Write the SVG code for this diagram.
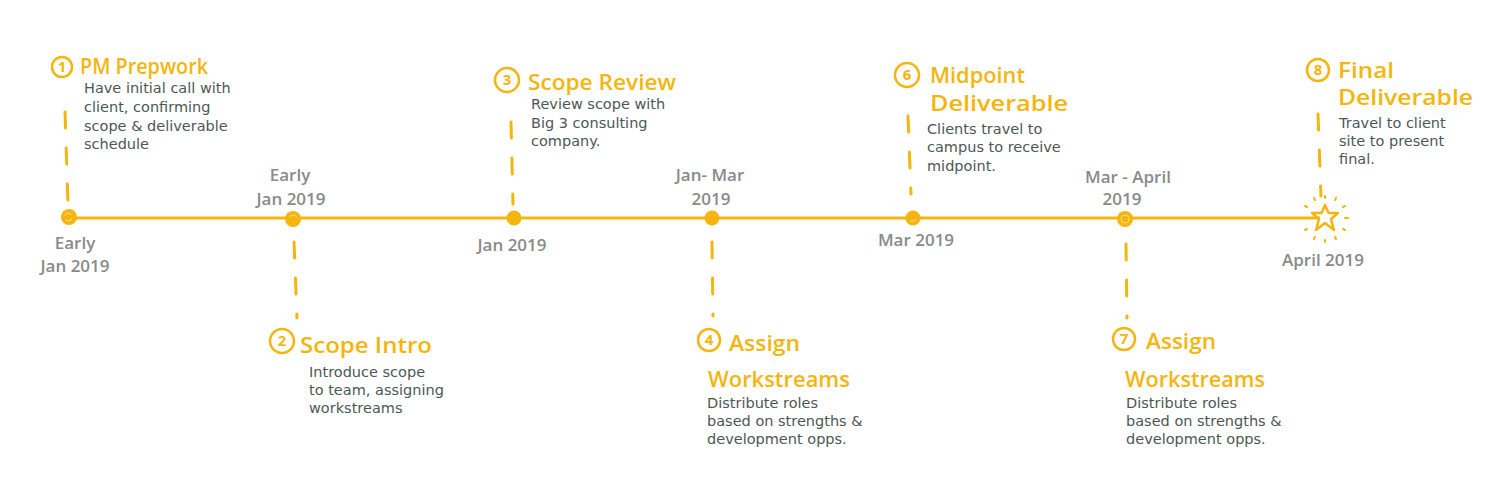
<svg xmlns="http://www.w3.org/2000/svg" width="1510" height="503" viewBox="0 0 1510 503">
<style>
.title{font-family:"Open Sans","Liberation Sans",sans-serif;font-size:22px;font-weight:600;fill:#F6B50E;}
.num{font-family:"Open Sans","Liberation Sans",sans-serif;font-size:15px;font-weight:bold;fill:#F6B50E;text-anchor:middle;}
.ring{fill:none;stroke:#F6B50E;stroke-width:2.5;}
.body{font-family:"DejaVu Sans","Liberation Sans",sans-serif;font-size:14.5px;fill:#4d5757;}
.date{font-family:"Open Sans","Liberation Sans",sans-serif;font-size:17px;font-weight:600;fill:#8a8a8a;text-anchor:middle;}
.dash{stroke:#F6B50E;stroke-width:3;stroke-linecap:round;stroke-dasharray:16 20;fill:none;}
.dot{fill:#F6B50E;}
.scr{fill:none;stroke:#fde08a;stroke-width:1;}
</style>
<rect width="1510" height="503" fill="#ffffff"/>
<g id="connectors">
<line x1="68" y1="218" x2="1320" y2="218" stroke="#F6B50E" stroke-width="3"/>
<path class="dash" d="M65 112 L68 204"/>
<path class="dash" d="M294 242 L297 318"/>
<path class="dash" d="M511 122 L513 204"/>
<path class="dash" d="M712 242 L713 316"/>
<path class="dash" d="M908 116 L911 194"/>
<path class="dash" d="M1126 244 L1127 318"/>
<path class="dash" d="M1318 114 L1321 196"/>
</g>
<g id="node1">
<circle class="dot" cx="69" cy="217" r="8"/><path class="scr" d="M64 216 q4 -5 8 -1 M66 220 q3 2 6 -1"/>
<circle class="ring" cx="62" cy="67" r="10"/><text class="num" x="62" y="72">1</text>
<text class="title" x="80" y="74" textLength="128" lengthAdjust="spacingAndGlyphs">PM Prepwork</text>
<text class="body" x="84" y="93">Have initial call with</text>
<text class="body" x="84" y="112">client, confirming</text>
<text class="body" x="84" y="131">scope &amp; deliverable</text>
<text class="body" x="84" y="149">schedule</text>
<text class="date" x="75" y="249">Early</text>
<text class="date" x="75" y="272">Jan 2019</text>
</g>
<g id="node2">
<circle class="dot" cx="293" cy="219" r="8"/><path class="scr" d="M289 217 q4 -4 8 0"/>
<text class="date" x="290" y="181">Early</text>
<text class="date" x="291" y="205">Jan 2019</text>
<circle class="ring" cx="282" cy="341" r="12"/><text class="num" x="282" y="346">2</text>
<text class="title" x="300" y="353" textLength="132" lengthAdjust="spacingAndGlyphs">Scope Intro</text>
<text class="body" x="309" y="377">Introduce scope</text>
<text class="body" x="309" y="395">to team, assigning</text>
<text class="body" x="309" y="413">workstreams</text>
</g>
<g id="node3">
<circle class="dot" cx="514" cy="218" r="7.5"/>
<circle class="ring" cx="507" cy="80" r="12"/><text class="num" x="507" y="85">3</text>
<text class="title" x="528" y="90" textLength="148" lengthAdjust="spacingAndGlyphs">Scope Review</text>
<text class="body" x="531" y="109">Review scope with</text>
<text class="body" x="531" y="128">Big 3 consulting</text>
<text class="body" x="531" y="146">company.</text>
<text class="date" x="512" y="251">Jan 2019</text>
</g>
<g id="node4">
<circle class="dot" cx="712" cy="218" r="7.5"/>
<text class="date" x="710" y="181">Jan- Mar</text>
<text class="date" x="711" y="205">2019</text>
<circle class="ring" cx="709" cy="340" r="11"/><text class="num" x="709" y="345">4</text>
<text class="title" x="729" y="351" textLength="71" lengthAdjust="spacingAndGlyphs">Assign</text>
<text class="title" x="708" y="387" textLength="142" lengthAdjust="spacingAndGlyphs">Workstreams</text>
<text class="body" x="707" y="408">Distribute roles</text>
<text class="body" x="707" y="426">based on strengths &amp;</text>
<text class="body" x="707" y="444">development opps.</text>
</g>
<g id="node6">
<circle class="dot" cx="913" cy="218" r="7.5"/><path class="scr" d="M910 220 q3 3 6 -1"/>
<circle class="ring" cx="907" cy="75" r="12"/><text class="num" x="907" y="80">6</text>
<text class="title" x="930" y="83" textLength="95" lengthAdjust="spacingAndGlyphs">Midpoint</text>
<text class="title" x="930" y="111" textLength="138" lengthAdjust="spacingAndGlyphs">Deliverable</text>
<text class="body" x="927" y="134">Clients travel to</text>
<text class="body" x="927" y="152">campus to receive</text>
<text class="body" x="927" y="171">midpoint.</text>
<text class="date" x="916" y="246">Mar 2019</text>
</g>
<g id="node7">
<circle class="dot" cx="1125" cy="219" r="8"/><circle class="scr" cx="1125" cy="219" r="4"/>
<text class="date" x="1128" y="183">Mar - April</text>
<text class="date" x="1122" y="205">2019</text>
<circle class="ring" cx="1124" cy="339" r="11"/><text class="num" x="1124" y="344">7</text>
<text class="title" x="1146" y="349" textLength="70" lengthAdjust="spacingAndGlyphs">Assign</text>
<text class="title" x="1125" y="387" textLength="140" lengthAdjust="spacingAndGlyphs">Workstreams</text>
<text class="body" x="1126" y="408">Distribute roles</text>
<text class="body" x="1126" y="426">based on strengths &amp;</text>
<text class="body" x="1126" y="444">development opps.</text>
</g>
<g id="node8">
<path d="M1325 205 L1328.5 213 L1338 213 L1331 219 L1334 230 L1325 223 L1316 230 L1319 219 L1312 213 L1321.5 213 Z" fill="none" stroke="#F6B50E" stroke-width="2.5" stroke-linejoin="round"/>
<g stroke="#F6B50E" stroke-width="2" stroke-linecap="round">
<line x1="1325" y1="196" x2="1325" y2="198"/><line x1="1336" y1="198" x2="1335" y2="200"/><line x1="1345" y1="206" x2="1343" y2="207"/>
<line x1="1348" y1="218" x2="1345" y2="218"/><line x1="1345" y1="230" x2="1343" y2="229"/><line x1="1336" y1="239" x2="1335" y2="237"/>
<line x1="1325" y1="242" x2="1325" y2="240"/><line x1="1314" y1="239" x2="1315" y2="237"/><line x1="1305" y1="230" x2="1307" y2="229"/>
<line x1="1305" y1="206" x2="1307" y2="207"/><line x1="1314" y1="198" x2="1315" y2="200"/>
</g>
<circle class="ring" cx="1318" cy="70" r="11"/><text class="num" x="1318" y="75">8</text>
<text class="title" x="1338" y="78" textLength="56" lengthAdjust="spacingAndGlyphs">Final</text>
<text class="title" x="1338" y="105" textLength="135" lengthAdjust="spacingAndGlyphs">Deliverable</text>
<text class="body" x="1339" y="128">Travel to client</text>
<text class="body" x="1339" y="146">site to present</text>
<text class="body" x="1339" y="164">final.</text>
<text class="date" x="1323" y="266">April 2019</text>
</g>
</svg>
